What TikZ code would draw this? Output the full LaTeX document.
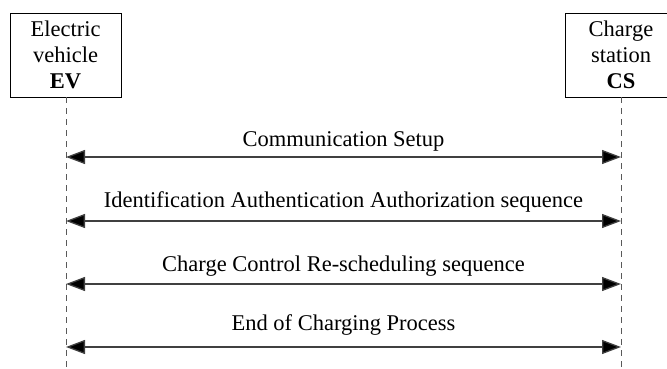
\documentclass[tikz,border=0pt]{standalone}
\usepackage{fontspec}
\setmainfont{Liberation Serif}
\usetikzlibrary{arrows.meta}
\tikzset{
  actor/.style={draw, line width=0.8pt, minimum width=111pt, minimum height=84pt, align=center, font=\fontsize{22.5}{26}\selectfont, inner sep=0pt},
  lifeline/.style={draw=black!65, line width=1pt, dash pattern=on 6pt off 5pt},
  msg/.style={draw=black!75, line width=1.3pt, {Triangle[length=19pt,width=14pt,fill=black]}-{Triangle[length=19pt,width=14pt,fill=black]}},
  lbl/.style={anchor=base, font=\fontsize{22.5}{26}\selectfont, inner sep=0pt}
}
\begin{document}
\begin{tikzpicture}[x=1pt,y=-1pt]
\useasboundingbox (0,0) rectangle (667,369);
\node[actor] (ev) at (65.5,55) {Electric\\vehicle\\\textbf{EV}};
\node[actor] (cs) at (621,55) {Charge\\station\\\textbf{CS}};
\coordinate (evend) at (66,369);
\coordinate (csend) at (621,369);
\draw[lifeline] (ev.south -| evend) -- (evend);
\draw[lifeline] (cs.south -| csend) -- (csend);
\coordinate (e1) at (66,157); \coordinate (c1) at (621,157);
\coordinate (e2) at (66,221); \coordinate (c2) at (621,221);
\coordinate (e3) at (66,284); \coordinate (c3) at (621,284);
\coordinate (e4) at (66,347); \coordinate (c4) at (621,347);
\draw[msg] (e1) -- (c1);
\draw[msg] (e2) -- (c2);
\draw[msg] (e3) -- (c3);
\draw[msg] (e4) -- (c4);
\node[lbl] (l1) at (343.5,146) {Communication Setup};
\node[lbl] (l2) at (343.5,207) {Identification Authentication Authorization sequence};
\node[lbl] (l3) at (343.5,271) {Charge Control Re-scheduling sequence};
\node[lbl] (l4) at (343.5,330) {End of Charging Process};
\end{tikzpicture}
\end{document}
